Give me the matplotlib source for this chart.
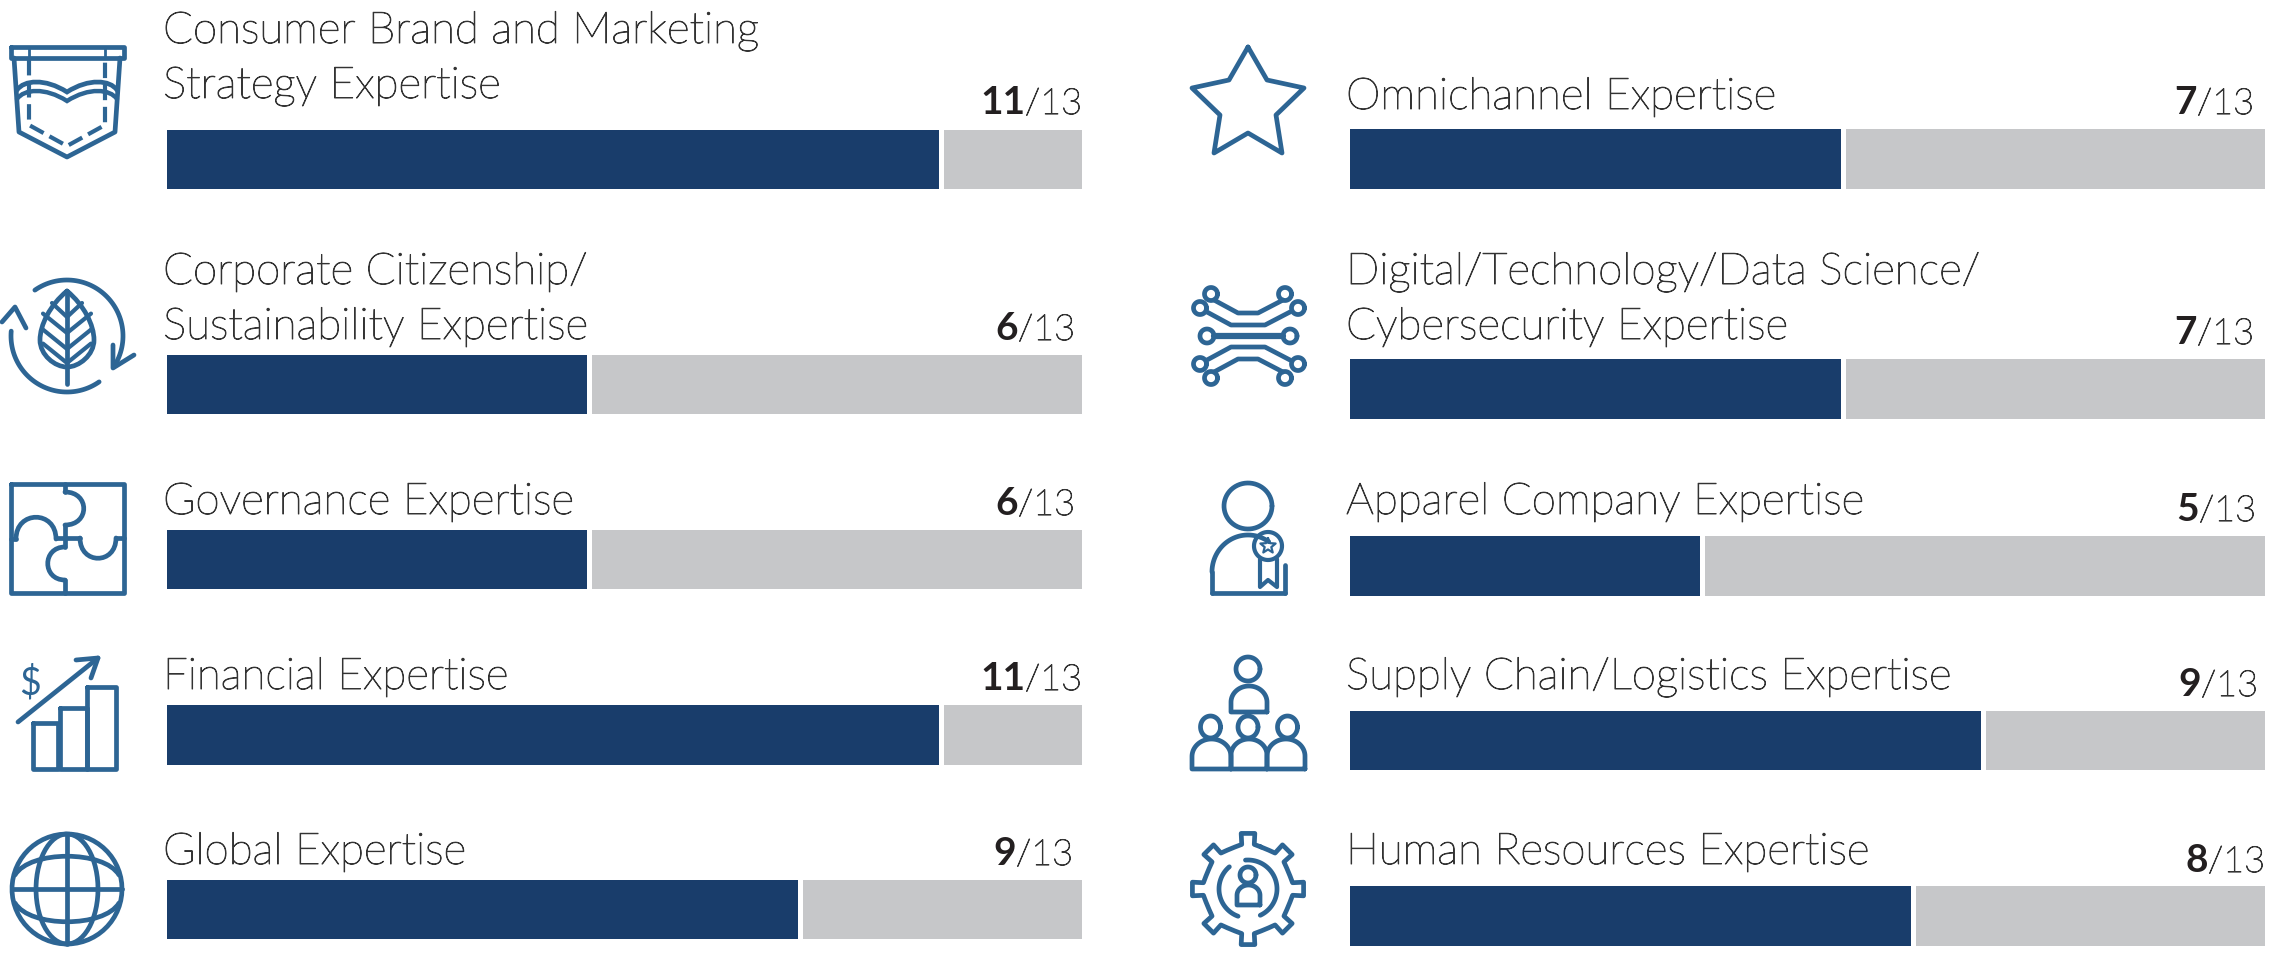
import numpy as np
from matplotlib import pyplot as plt
from matplotlib.path import Path
from matplotlib.patches import PathPatch
from matplotlib import patheffects

# left column then right column, top to bottom
leftLabels = [['Consumer Brand and Marketing', 'Strategy Expertise'],
              ['Corporate Citizenship/', 'Sustainability Expertise'],
              ['Governance Expertise'],
              ['Financial Expertise'],
              ['Global Expertise']]
leftValues = [11, 6, 6, 11, 9]
rightLabels = [['Omnichannel Expertise'],
               ['Digital/Technology/Data Science/', 'Cybersecurity Expertise'],
               ['Apparel Company Expertise'],
               ['Supply Chain/Logistics Expertise'],
               ['Human Resources Expertise']]
rightValues = [7, 7, 5, 9, 8]
boardSize = 13

DARK = '#193D6B'
GREY = '#C6C7C9'
ICON = '#2D6594'
TEXT = '#333333'
NUMBER = '#231F20'
FONT = 'Lato'
LABEL_SIZE = 31.6
RATIO_SIZE = 26
NUMBER_SIZE = 28
LW = 3.4

W, H = 2278, 956

# layout in pixels of the picture
leftTrack = (167, 1082)
rightTrack = (1350, 2265)
leftBars = [(130, 189), (355, 414), (530, 589), (705, 765), (880, 939)]
rightBars = [(129, 189), (359, 419), (536, 596), (711, 770), (886, 946)]
leftBase = [[43, 98], [284, 339], [514], [689], [864]]
rightBase = [[109], [284, 339], [514], [689], [864]]
leftRatio = [(1082, 114), (1075, 340), (1075, 515), (1082, 690), (1073, 865)]
rightRatio = [(2254, 114), (2254, 344), (2256, 521), (2258, 696), (2265, 872)]

# the light cut is very thin, a hairline stroke brings it up to the reference
thicken = [patheffects.withStroke(linewidth=0.7, foreground=TEXT)]

fig = plt.figure(figsize=(W / 100, H / 100), dpi=100)
fig.patch.set_facecolor('white')
canvas = fig.add_axes([0, 0, 1, 1])
canvas.set_xlim(0, W)
canvas.set_ylim(H, 0)
canvas.axis('off')


def drawBars(track, bars, values):
    ax = fig.add_axes([track[0] / W, 0, (track[1] - track[0]) / W, 1])
    ax.set_xlim(0, boardSize)
    ax.set_ylim(H, 0)
    ax.axis('off')
    pxUnit = boardSize / (track[1] - track[0])
    for (top, bottom), value in zip(bars, values):
        ax.barh((top + bottom) / 2, value - 2 * pxUnit, bottom - top, color=DARK, linewidth=0)
        ax.barh((top + bottom) / 2, boardSize - value - 3 * pxUnit, bottom - top,
                left=value + 3 * pxUnit, color=GREY, linewidth=0)


def drawLabels(x, labels, bases):
    for lines, ys in zip(labels, bases):
        for line, y in zip(lines, ys):
            canvas.text(x, y, line, fontsize=LABEL_SIZE, family=FONT, weight='light',
                        color=TEXT, ha='left', va='baseline', path_effects=thicken)


def drawRatios(ratios, values):
    renderer = fig.canvas.get_renderer()
    for (x, y), value in zip(ratios, values):
        t = canvas.text(x, y, '/%d' % boardSize, fontsize=RATIO_SIZE, family=FONT, weight='light',
                        color=TEXT, ha='right', va='baseline', path_effects=thicken)
        width = t.get_window_extent(renderer).width
        canvas.text(x - width, y, str(value), fontsize=NUMBER_SIZE, family=FONT, weight='bold',
                    color=NUMBER, ha='right', va='baseline')


# icon helpers, everything is in picture pixels
def line(xs, ys, lw=LW, ls='-'):
    canvas.plot(xs, ys, color=ICON, lw=lw, ls=ls, solid_joinstyle='round',
                solid_capstyle='round', dash_capstyle='butt')


def poly(points, lw=LW, close=False):
    pts = list(points) + ([points[0]] if close else [])
    line([p[0] for p in pts], [p[1] for p in pts], lw)


def arc(cx, cy, rx, ry, a0, a1, lw=LW):
    a = np.radians(np.linspace(a0, a1, 60))
    line(cx + rx * np.cos(a), cy - ry * np.sin(a), lw)


def ring(cx, cy, rx, ry=None, lw=LW):
    arc(cx, cy, rx, rx if ry is None else ry, 0, 360, lw)


def bez(start, *segments, lw=LW):
    verts = [start]
    codes = [Path.MOVETO]
    for seg in segments:
        verts += list(seg)
        codes += [Path.CURVE4] * 3
    canvas.add_patch(PathPatch(Path(verts, codes), fill=False, edgecolor=ICON, lw=lw,
                               capstyle='round'))


def dome(x0, x1, bottom, top, lw=LW):
    cx = (x0 + x1) / 2
    rx = (x1 - x0) / 2
    shoulder = top + rx * 0.9
    a = np.radians(np.linspace(0, 180, 40))
    xs = np.concatenate([[x1], cx + rx * np.cos(a), [x0, x1]])
    ys = np.concatenate([[bottom], shoulder - (shoulder - top) * np.sin(a), [bottom, bottom]])
    line(xs, ys, lw)


def iconPocket():
    poly([(11, 47), (124, 47), (124, 58), (11, 58)], close=True)
    line([29, 29], [47, 58], 2)
    line([105, 105], [47, 58], 2)
    poly([(14, 58), (19, 132), (67, 157), (115, 132), (120, 58)])
    line([29, 29, 67, 105, 105], [60, 125, 146, 125, 60], 3, '--')
    for dy in (0, 9):
        bez((17, 90 + dy), [(24, 80 + dy), (45, 78 + dy), (67, 92 + dy)],
            [(89, 78 + dy), (110, 80 + dy), (117, 90 + dy)], lw=3.2 if dy else LW)


def iconLeaf():
    arc(67, 336, 56, 56, 125, -30)
    arc(67, 336, 56, 56, 305, 175)
    poly([(2, 322), (15, 307), (26, 328)])
    poly([(113, 345), (113, 368), (134, 355)])
    bez((67, 291), [(50, 305), (40, 325), (40, 340)], [(40, 355), (55, 367), (67, 367)],
        [(79, 367), (94, 355), (94, 340)], [(94, 325), (84, 305), (67, 291)])
    line([67, 67], [291, 384])
    for y in (312, 328, 344, 358):
        half = 15 if y < 320 else 24
        line([67 - half, 67, 67 + half], [y - half * 0.6, y + 5, y - half * 0.6], 3)


def iconPuzzle():
    poly([(11, 484), (124, 484), (124, 593), (11, 593)], close=True)
    line([65, 65], [484, 492])
    bez((65, 492), [(90, 492), (90, 525), (65, 525)])
    line([65, 65], [525, 537])
    line([11, 16], [539, 539])
    bez((16, 539), [(16, 510), (56, 510), (56, 539)])
    line([56, 80], [538, 538])
    bez((80, 538), [(80, 565), (116, 565), (116, 538)])
    line([116, 124], [538, 538])
    line([65, 65], [538, 547])
    bez((65, 547), [(42, 547), (42, 580), (65, 580)])
    line([65, 65], [580, 593])


def iconChart():
    poly([(33, 723), (58, 723), (58, 769), (33, 769)], close=True)
    poly([(60, 708), (87, 708), (87, 769), (60, 769)], close=True)
    poly([(87, 687), (116, 687), (116, 769), (87, 769)], close=True)
    line([18, 98], [722, 658])
    poly([(76, 660), (98, 658), (91, 678)])
    canvas.text(30, 683, '$', fontsize=27, family=FONT, color=ICON, ha='center', va='center')


def iconGlobe():
    ring(67, 889, 55)
    ring(67, 889, 31, 55)
    line([67, 67], [834, 944])
    line([12, 122], [889, 889])
    bez((15, 875), [(30, 850), (104, 850), (119, 875)])
    bez((15, 903), [(30, 928), (104, 928), (119, 903)])


def iconStar():
    poly([(1248, 47), (1267, 80), (1304, 88), (1276, 115), (1282, 153), (1248, 133),
          (1214, 153), (1220, 115), (1192, 88), (1229, 80)], close=True)


def iconCircuit():
    cy = 336
    line([1214, 1283], [cy, cy], 4.5)
    ring(1207, cy, 7)
    ring(1290, cy, 7)
    for s in (-1, 1):
        poly([(1214, cy + s * 36), (1238, cy + s * 23), (1258, cy + s * 23), (1283, cy + s * 36)])
        poly([(1207, cy + s * 24), (1231, cy + s * 11), (1265, cy + s * 11), (1290, cy + s * 24)])
        for x, dy in ((1211, 42), (1285, 42), (1200, 28), (1298, 28)):
            ring(x, cy + s * dy, 6.5)


def iconPerson():
    ring(1248, 506, 24, 23)
    poly([(1212, 593), (1285, 593)])
    arc(1248, 572, 36, 37, 180, 55)
    line([1212, 1212], [572, 593])
    line([1285, 1285], [565, 593])
    ring(1268, 546, 14, lw=3)
    star = [(1268 + r * np.sin(np.radians(36 * i)), 546 - r * np.cos(np.radians(36 * i)))
            for i, r in enumerate([8, 3.5] * 5)]
    poly(star, lw=1.6, close=True)
    poly([(1260, 559), (1260, 587), (1268, 580), (1277, 587), (1277, 559)], lw=3)


def iconGroup():
    ring(1248, 669, 12)
    dome(1231, 1267, 712, 686)
    for x, x0, x1 in ((1210.5, 1192, 1231), (1248, 1231, 1267), (1287.5, 1267, 1305)):
        ring(x, 727, 10, 11)
        dome(x0, x1, 769, 739)


def iconGear():
    cx, cy = 1248, 889
    pts = []
    for k in range(8):
        a = np.radians(90 + 45 * k)
        for off, r in ((-17, 44), (-8, 45), (-7, 56), (7, 56), (8, 45), (17, 44)):
            b = a + np.radians(off)
            pts.append((cx + r * np.cos(b), cy - r * np.sin(b)))
    poly(pts, close=True)
    arc(cx, cy, 29, 29, 95, -65)
    arc(cx, cy, 29, 29, 130, 250)
    ring(cx, cy - 14, 8)
    dome(cx - 11, cx + 12, cy + 16, cy - 4)


drawBars(leftTrack, leftBars, leftValues)
drawBars(rightTrack, rightBars, rightValues)
drawLabels(163, leftLabels, leftBase)
drawLabels(1346, rightLabels, rightBase)
canvas.set_zorder(5)
canvas.patch.set_alpha(0)

fig.canvas.draw()
drawRatios(leftRatio, leftValues)
drawRatios(rightRatio, rightValues)

iconPocket()
iconLeaf()
iconPuzzle()
iconChart()
iconGlobe()
iconStar()
iconCircuit()
iconPerson()
iconGroup()
iconGear()
canvas.set_xlim(0, W)
canvas.set_ylim(H, 0)

fig.savefig('out.png', dpi=100)
